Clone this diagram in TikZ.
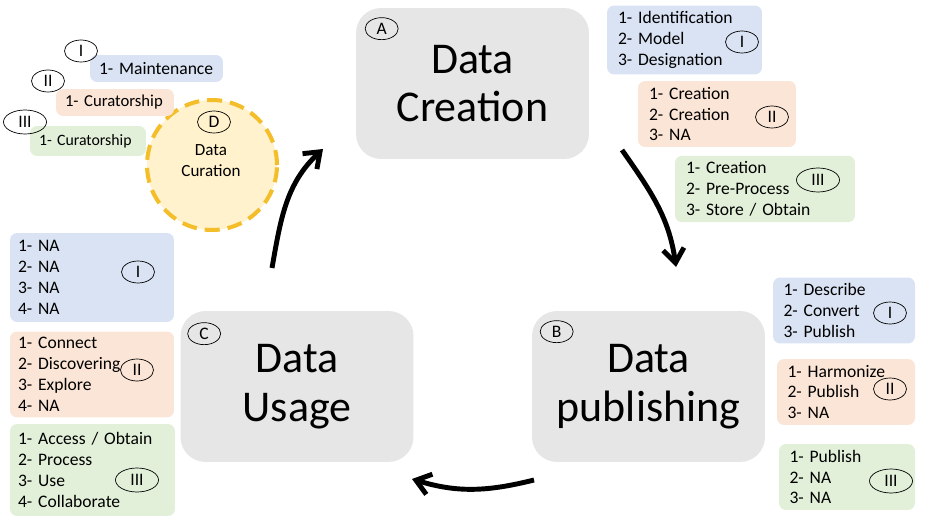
\documentclass[tikz,border=0pt]{standalone}
\usepackage{fontspec}
\setmainfont{Carlito}
\usetikzlibrary{shapes}
\usetikzlibrary{arrows.meta}

\definecolor{stagegray}{HTML}{E7E6E6}
\definecolor{lblue}{HTML}{DAE3F3}
\definecolor{lorange}{HTML}{FBE5D6}
\definecolor{lgreen}{HTML}{E2F0D9}
\definecolor{lyellow}{HTML}{FFF2CC}
\definecolor{gold}{HTML}{F4BE2A}

\tikzset{
    stage/.style={fill=stagegray, rounded corners=0.5cm, minimum width=4.66cm,
                  minimum height=3.02cm, align=center,
                  font=\fontsize{25}{27.8}\selectfont},
    tag/.style={draw, ellipse, inner sep=0pt, minimum width=0.66cm,
                minimum height=0.44cm, font=\fontsize{10}{12}\selectfont},
    widetag/.style={tag, minimum width=0.86cm, minimum height=0.48cm},
    steps/.style={rounded corners=4pt, align=left, minimum height=1.32cm,
                  font=\fontsize{10}{11.9}\selectfont},
    cycle/.style={line width=2.8pt, -{Straight Barb[length=8pt,width=12pt]}}
}

\begin{document}
\begin{tikzpicture}[x=0.02cm, y=-0.02cm]
    \useasboundingbox (0,0) rectangle (946,530);

    \node[stage] (creation) at (472.5,83.5) {Data\\Creation};
    \node[stage] (publishing) at (648.5,386.5) {Data\\publishing};
    \node[stage] (usage) at (297,386.5) {Data\\Usage};
    \node[tag] (tagA) at ([shift={(26,21)}]creation.north west) {A};
    \node[tag] (tagB) at ([shift={(25,21)}]publishing.north west) {B};
    \node[tag] (tagC) at ([shift={(24,23)}]usage.north west) {C};

    \node[circle, fill=lyellow, draw=gold, line width=2.3pt,
          dash pattern=on 0.3cm off 0.16cm, minimum size=2.6cm] (curation)
          at (212,165) {};
    \node[align=center, font=\fontsize{9.7}{11.9}\selectfont] (curtext)
          at (211,161) {Data\\Curation};
    \node[tag] (tagD) at (214,122) {D};

    \node[steps, fill=lblue, text width=2.66cm, inner xsep=0.22cm]
          (cre1) at (684.5,40) {1- Identification\\2- Model\\3- Designation};
    \node[steps, fill=lorange, text width=2.72cm, inner xsep=0.22cm]
          (cre2) at (717,114) {1- Creation\\2- Creation\\3- NA};
    \node[steps, fill=lgreen, text width=3.16cm, inner xsep=0.22cm]
          (cre3) at (765,189) {1- Creation\\2- Pre-Process\\3- Store / Obtain};
    \node[tag] (cre1t) at (742,42) {I};
    \node[tag] (cre2t) at (772,117) {II};
    \node[widetag] (cre3t) at (818,180) {III};

    \node[steps, fill=lblue, text width=2.42cm, inner xsep=0.21cm,
          minimum height=1.3cm] (pub1) at (844,310.5)
          {1- Describe\\2- Convert\\3- Publish};
    \node[steps, fill=lorange, text width=2.34cm, inner xsep=0.21cm]
          (pub2) at (846,392) {1- Harmonize\\2- Publish\\3- NA};
    \node[steps, fill=lgreen, text width=2.3cm, inner xsep=0.21cm]
          (pub3) at (847,477) {1- Publish\\2- NA\\3- NA};
    \node[tag] (pub1t) at (890,313) {I};
    \node[tag] (pub2t) at (890,389) {II};
    \node[widetag] (pub3t) at (891,481) {III};

    \node[steps, fill=lblue, text width=2.96cm, inner xsep=0.16cm,
          minimum height=1.78cm] (use1) at (92,277.5)
          {1- NA\\2- NA\\3- NA\\4- NA};
    \node[steps, fill=lorange, text width=2.96cm, inner xsep=0.16cm,
          minimum height=1.7cm] (use2) at (92,374.5)
          {1- Connect\\2- Discovering\\3- Explore\\4- NA};
    \node[steps, fill=lgreen, text width=2.98cm, inner xsep=0.16cm,
          minimum height=1.84cm] (use3) at (92.5,470)
          {1- Access / Obtain\\2- Process\\3- Use\\4- Collaborate};
    \node[tag] (use1t) at (138,272) {I};
    \node[tag] (use2t) at (137,370) {II};
    \node[widetag] (use3t) at (137,480) {III};

    \node[steps, fill=lblue, text width=2.3cm, inner xsep=0.18cm,
          minimum height=0.54cm] (cur1) at (156.5,68.5) {1- Maintenance};
    \node[steps, fill=lorange, text width=2.0cm, inner xsep=0.18cm,
          minimum height=0.54cm, font=\fontsize{9.5}{11.9}\selectfont]
          (cur2) at (115,102.5) {1- Curatorship};
    \node[steps, fill=lgreen, text width=1.96cm, inner xsep=0.18cm,
          minimum height=0.6cm, font=\fontsize{9}{11.9}\selectfont]
          (cur3) at (88,141) {1- Curatorship};
    \node[tag] (cur1t) at (81,51) {I};
    \node[tag] (cur2t) at (48,81) {II};
    \node[widetag] (cur3t) at (25,122) {III};

    \coordinate (cp1) at (622,150);
    \coordinate (pb1) at (676,267);
    \coordinate (pu1) at (534,480);
    \coordinate (up1) at (412,479);
    \coordinate (uc1) at (272,268);
    \coordinate (cc1) at (323,149);
    \draw[cycle] (cp1) to[out=-55, in=98] (pb1);
    \draw[cycle] (pu1) to[out=194, in=-17] (up1);
    \draw[cycle] (uc1) to[out=80, in=223] (cc1);
\end{tikzpicture}
\end{document}
